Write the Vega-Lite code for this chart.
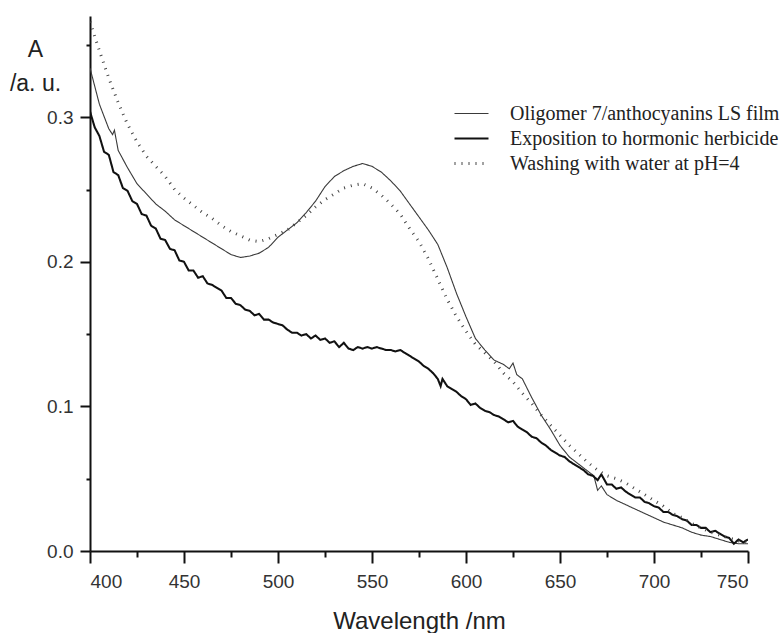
{
  "$schema": "https://vega.github.io/schema/vega-lite/v6.json",
  "width": 658,
  "height": 535,
  "autosize": "none",
  "padding": {"left": 90, "top": 16, "right": 33, "bottom": 82},
  "background": "white",
  "config": {
    "view": {"stroke": null},
    "axis": {"grid": false, "domainColor": "#111", "domainWidth": 2, "tickColor": "#111", "tickWidth": 2, "labelColor": "#333", "labelFont": "Liberation Sans", "labelFontSize": 19, "titleFont": "Liberation Sans", "titleColor": "#222", "titleFontWeight": "normal"}
  },
  "datasets": {
    "spectra": [
      {"s": "Oligomer 7/anthocyanins LS film", "wl": 400, "A": 0.334},
      {"s": "Oligomer 7/anthocyanins LS film", "wl": 405, "A": 0.309},
      {"s": "Oligomer 7/anthocyanins LS film", "wl": 410, "A": 0.292},
      {"s": "Oligomer 7/anthocyanins LS film", "wl": 412, "A": 0.288},
      {"s": "Oligomer 7/anthocyanins LS film", "wl": 413, "A": 0.291},
      {"s": "Oligomer 7/anthocyanins LS film", "wl": 415, "A": 0.277},
      {"s": "Oligomer 7/anthocyanins LS film", "wl": 420, "A": 0.265},
      {"s": "Oligomer 7/anthocyanins LS film", "wl": 425, "A": 0.254},
      {"s": "Oligomer 7/anthocyanins LS film", "wl": 430, "A": 0.247},
      {"s": "Oligomer 7/anthocyanins LS film", "wl": 435, "A": 0.240},
      {"s": "Oligomer 7/anthocyanins LS film", "wl": 440, "A": 0.235},
      {"s": "Oligomer 7/anthocyanins LS film", "wl": 445, "A": 0.229},
      {"s": "Oligomer 7/anthocyanins LS film", "wl": 450, "A": 0.225},
      {"s": "Oligomer 7/anthocyanins LS film", "wl": 455, "A": 0.221},
      {"s": "Oligomer 7/anthocyanins LS film", "wl": 460, "A": 0.217},
      {"s": "Oligomer 7/anthocyanins LS film", "wl": 465, "A": 0.213},
      {"s": "Oligomer 7/anthocyanins LS film", "wl": 470, "A": 0.209},
      {"s": "Oligomer 7/anthocyanins LS film", "wl": 475, "A": 0.205},
      {"s": "Oligomer 7/anthocyanins LS film", "wl": 480, "A": 0.203},
      {"s": "Oligomer 7/anthocyanins LS film", "wl": 485, "A": 0.204},
      {"s": "Oligomer 7/anthocyanins LS film", "wl": 490, "A": 0.206},
      {"s": "Oligomer 7/anthocyanins LS film", "wl": 495, "A": 0.210},
      {"s": "Oligomer 7/anthocyanins LS film", "wl": 500, "A": 0.217},
      {"s": "Oligomer 7/anthocyanins LS film", "wl": 505, "A": 0.222},
      {"s": "Oligomer 7/anthocyanins LS film", "wl": 510, "A": 0.227},
      {"s": "Oligomer 7/anthocyanins LS film", "wl": 515, "A": 0.234},
      {"s": "Oligomer 7/anthocyanins LS film", "wl": 520, "A": 0.242},
      {"s": "Oligomer 7/anthocyanins LS film", "wl": 525, "A": 0.252},
      {"s": "Oligomer 7/anthocyanins LS film", "wl": 530, "A": 0.259},
      {"s": "Oligomer 7/anthocyanins LS film", "wl": 535, "A": 0.263},
      {"s": "Oligomer 7/anthocyanins LS film", "wl": 540, "A": 0.266},
      {"s": "Oligomer 7/anthocyanins LS film", "wl": 545, "A": 0.268},
      {"s": "Oligomer 7/anthocyanins LS film", "wl": 550, "A": 0.266},
      {"s": "Oligomer 7/anthocyanins LS film", "wl": 555, "A": 0.262},
      {"s": "Oligomer 7/anthocyanins LS film", "wl": 560, "A": 0.256},
      {"s": "Oligomer 7/anthocyanins LS film", "wl": 565, "A": 0.249},
      {"s": "Oligomer 7/anthocyanins LS film", "wl": 570, "A": 0.240},
      {"s": "Oligomer 7/anthocyanins LS film", "wl": 575, "A": 0.231},
      {"s": "Oligomer 7/anthocyanins LS film", "wl": 580, "A": 0.222},
      {"s": "Oligomer 7/anthocyanins LS film", "wl": 585, "A": 0.212},
      {"s": "Oligomer 7/anthocyanins LS film", "wl": 590, "A": 0.196},
      {"s": "Oligomer 7/anthocyanins LS film", "wl": 595, "A": 0.178},
      {"s": "Oligomer 7/anthocyanins LS film", "wl": 600, "A": 0.162},
      {"s": "Oligomer 7/anthocyanins LS film", "wl": 605, "A": 0.147},
      {"s": "Oligomer 7/anthocyanins LS film", "wl": 610, "A": 0.139},
      {"s": "Oligomer 7/anthocyanins LS film", "wl": 615, "A": 0.132},
      {"s": "Oligomer 7/anthocyanins LS film", "wl": 620, "A": 0.129},
      {"s": "Oligomer 7/anthocyanins LS film", "wl": 623, "A": 0.126},
      {"s": "Oligomer 7/anthocyanins LS film", "wl": 625, "A": 0.130},
      {"s": "Oligomer 7/anthocyanins LS film", "wl": 627, "A": 0.122},
      {"s": "Oligomer 7/anthocyanins LS film", "wl": 630, "A": 0.119},
      {"s": "Oligomer 7/anthocyanins LS film", "wl": 635, "A": 0.106},
      {"s": "Oligomer 7/anthocyanins LS film", "wl": 640, "A": 0.094},
      {"s": "Oligomer 7/anthocyanins LS film", "wl": 645, "A": 0.084},
      {"s": "Oligomer 7/anthocyanins LS film", "wl": 650, "A": 0.073},
      {"s": "Oligomer 7/anthocyanins LS film", "wl": 655, "A": 0.065},
      {"s": "Oligomer 7/anthocyanins LS film", "wl": 660, "A": 0.060},
      {"s": "Oligomer 7/anthocyanins LS film", "wl": 665, "A": 0.055},
      {"s": "Oligomer 7/anthocyanins LS film", "wl": 668, "A": 0.052},
      {"s": "Oligomer 7/anthocyanins LS film", "wl": 670, "A": 0.042},
      {"s": "Oligomer 7/anthocyanins LS film", "wl": 672, "A": 0.045},
      {"s": "Oligomer 7/anthocyanins LS film", "wl": 675, "A": 0.039},
      {"s": "Oligomer 7/anthocyanins LS film", "wl": 680, "A": 0.035},
      {"s": "Oligomer 7/anthocyanins LS film", "wl": 685, "A": 0.032},
      {"s": "Oligomer 7/anthocyanins LS film", "wl": 690, "A": 0.029},
      {"s": "Oligomer 7/anthocyanins LS film", "wl": 695, "A": 0.026},
      {"s": "Oligomer 7/anthocyanins LS film", "wl": 700, "A": 0.023},
      {"s": "Oligomer 7/anthocyanins LS film", "wl": 705, "A": 0.020},
      {"s": "Oligomer 7/anthocyanins LS film", "wl": 710, "A": 0.018},
      {"s": "Oligomer 7/anthocyanins LS film", "wl": 715, "A": 0.016},
      {"s": "Oligomer 7/anthocyanins LS film", "wl": 720, "A": 0.013},
      {"s": "Oligomer 7/anthocyanins LS film", "wl": 725, "A": 0.011},
      {"s": "Oligomer 7/anthocyanins LS film", "wl": 730, "A": 0.010},
      {"s": "Oligomer 7/anthocyanins LS film", "wl": 735, "A": 0.008},
      {"s": "Oligomer 7/anthocyanins LS film", "wl": 740, "A": 0.006},
      {"s": "Oligomer 7/anthocyanins LS film", "wl": 745, "A": 0.005},
      {"s": "Oligomer 7/anthocyanins LS film", "wl": 750, "A": 0.005},

      {"s": "Exposition to hormonic herbicide", "wl": 400, "A": 0.304},
      {"s": "Exposition to hormonic herbicide", "wl": 402.5, "A": 0.293},
      {"s": "Exposition to hormonic herbicide", "wl": 405, "A": 0.287},
      {"s": "Exposition to hormonic herbicide", "wl": 407.5, "A": 0.276},
      {"s": "Exposition to hormonic herbicide", "wl": 410, "A": 0.274},
      {"s": "Exposition to hormonic herbicide", "wl": 412.5, "A": 0.262},
      {"s": "Exposition to hormonic herbicide", "wl": 415, "A": 0.260},
      {"s": "Exposition to hormonic herbicide", "wl": 417.5, "A": 0.251},
      {"s": "Exposition to hormonic herbicide", "wl": 420, "A": 0.249},
      {"s": "Exposition to hormonic herbicide", "wl": 422.5, "A": 0.242},
      {"s": "Exposition to hormonic herbicide", "wl": 425, "A": 0.240},
      {"s": "Exposition to hormonic herbicide", "wl": 427.5, "A": 0.233},
      {"s": "Exposition to hormonic herbicide", "wl": 430, "A": 0.232},
      {"s": "Exposition to hormonic herbicide", "wl": 432.5, "A": 0.225},
      {"s": "Exposition to hormonic herbicide", "wl": 435, "A": 0.223},
      {"s": "Exposition to hormonic herbicide", "wl": 437.5, "A": 0.216},
      {"s": "Exposition to hormonic herbicide", "wl": 440, "A": 0.215},
      {"s": "Exposition to hormonic herbicide", "wl": 442.5, "A": 0.209},
      {"s": "Exposition to hormonic herbicide", "wl": 445, "A": 0.208},
      {"s": "Exposition to hormonic herbicide", "wl": 447.5, "A": 0.201},
      {"s": "Exposition to hormonic herbicide", "wl": 450, "A": 0.200},
      {"s": "Exposition to hormonic herbicide", "wl": 452.5, "A": 0.194},
      {"s": "Exposition to hormonic herbicide", "wl": 455, "A": 0.194},
      {"s": "Exposition to hormonic herbicide", "wl": 457.5, "A": 0.189},
      {"s": "Exposition to hormonic herbicide", "wl": 460, "A": 0.190},
      {"s": "Exposition to hormonic herbicide", "wl": 462.5, "A": 0.185},
      {"s": "Exposition to hormonic herbicide", "wl": 465, "A": 0.184},
      {"s": "Exposition to hormonic herbicide", "wl": 467.5, "A": 0.182},
      {"s": "Exposition to hormonic herbicide", "wl": 470, "A": 0.180},
      {"s": "Exposition to hormonic herbicide", "wl": 472.5, "A": 0.175},
      {"s": "Exposition to hormonic herbicide", "wl": 475, "A": 0.175},
      {"s": "Exposition to hormonic herbicide", "wl": 477.5, "A": 0.171},
      {"s": "Exposition to hormonic herbicide", "wl": 480, "A": 0.170},
      {"s": "Exposition to hormonic herbicide", "wl": 482.5, "A": 0.167},
      {"s": "Exposition to hormonic herbicide", "wl": 485, "A": 0.166},
      {"s": "Exposition to hormonic herbicide", "wl": 487.5, "A": 0.163},
      {"s": "Exposition to hormonic herbicide", "wl": 490, "A": 0.164},
      {"s": "Exposition to hormonic herbicide", "wl": 492.5, "A": 0.160},
      {"s": "Exposition to hormonic herbicide", "wl": 495, "A": 0.160},
      {"s": "Exposition to hormonic herbicide", "wl": 497.5, "A": 0.158},
      {"s": "Exposition to hormonic herbicide", "wl": 500, "A": 0.157},
      {"s": "Exposition to hormonic herbicide", "wl": 502.5, "A": 0.156},
      {"s": "Exposition to hormonic herbicide", "wl": 505, "A": 0.153},
      {"s": "Exposition to hormonic herbicide", "wl": 507.5, "A": 0.151},
      {"s": "Exposition to hormonic herbicide", "wl": 510, "A": 0.151},
      {"s": "Exposition to hormonic herbicide", "wl": 512.5, "A": 0.149},
      {"s": "Exposition to hormonic herbicide", "wl": 515, "A": 0.150},
      {"s": "Exposition to hormonic herbicide", "wl": 517.5, "A": 0.147},
      {"s": "Exposition to hormonic herbicide", "wl": 520, "A": 0.149},
      {"s": "Exposition to hormonic herbicide", "wl": 522.5, "A": 0.146},
      {"s": "Exposition to hormonic herbicide", "wl": 525, "A": 0.147},
      {"s": "Exposition to hormonic herbicide", "wl": 527.5, "A": 0.144},
      {"s": "Exposition to hormonic herbicide", "wl": 530, "A": 0.145},
      {"s": "Exposition to hormonic herbicide", "wl": 532.5, "A": 0.141},
      {"s": "Exposition to hormonic herbicide", "wl": 535, "A": 0.144},
      {"s": "Exposition to hormonic herbicide", "wl": 537.5, "A": 0.140},
      {"s": "Exposition to hormonic herbicide", "wl": 540, "A": 0.139},
      {"s": "Exposition to hormonic herbicide", "wl": 542.5, "A": 0.141},
      {"s": "Exposition to hormonic herbicide", "wl": 545, "A": 0.140},
      {"s": "Exposition to hormonic herbicide", "wl": 547.5, "A": 0.141},
      {"s": "Exposition to hormonic herbicide", "wl": 550, "A": 0.140},
      {"s": "Exposition to hormonic herbicide", "wl": 552.5, "A": 0.141},
      {"s": "Exposition to hormonic herbicide", "wl": 555, "A": 0.140},
      {"s": "Exposition to hormonic herbicide", "wl": 557.5, "A": 0.139},
      {"s": "Exposition to hormonic herbicide", "wl": 560, "A": 0.139},
      {"s": "Exposition to hormonic herbicide", "wl": 562.5, "A": 0.138},
      {"s": "Exposition to hormonic herbicide", "wl": 565, "A": 0.139},
      {"s": "Exposition to hormonic herbicide", "wl": 567.5, "A": 0.137},
      {"s": "Exposition to hormonic herbicide", "wl": 570, "A": 0.135},
      {"s": "Exposition to hormonic herbicide", "wl": 572.5, "A": 0.133},
      {"s": "Exposition to hormonic herbicide", "wl": 575, "A": 0.131},
      {"s": "Exposition to hormonic herbicide", "wl": 577.5, "A": 0.128},
      {"s": "Exposition to hormonic herbicide", "wl": 580, "A": 0.126},
      {"s": "Exposition to hormonic herbicide", "wl": 582.5, "A": 0.123},
      {"s": "Exposition to hormonic herbicide", "wl": 585, "A": 0.119},
      {"s": "Exposition to hormonic herbicide", "wl": 586.5, "A": 0.114},
      {"s": "Exposition to hormonic herbicide", "wl": 587.5, "A": 0.119},
      {"s": "Exposition to hormonic herbicide", "wl": 590, "A": 0.114},
      {"s": "Exposition to hormonic herbicide", "wl": 592.5, "A": 0.112},
      {"s": "Exposition to hormonic herbicide", "wl": 595, "A": 0.110},
      {"s": "Exposition to hormonic herbicide", "wl": 597.5, "A": 0.107},
      {"s": "Exposition to hormonic herbicide", "wl": 600, "A": 0.105},
      {"s": "Exposition to hormonic herbicide", "wl": 602.5, "A": 0.101},
      {"s": "Exposition to hormonic herbicide", "wl": 605, "A": 0.102},
      {"s": "Exposition to hormonic herbicide", "wl": 607.5, "A": 0.099},
      {"s": "Exposition to hormonic herbicide", "wl": 610, "A": 0.097},
      {"s": "Exposition to hormonic herbicide", "wl": 612.5, "A": 0.096},
      {"s": "Exposition to hormonic herbicide", "wl": 615, "A": 0.094},
      {"s": "Exposition to hormonic herbicide", "wl": 617.5, "A": 0.093},
      {"s": "Exposition to hormonic herbicide", "wl": 620, "A": 0.091},
      {"s": "Exposition to hormonic herbicide", "wl": 622.5, "A": 0.089},
      {"s": "Exposition to hormonic herbicide", "wl": 625, "A": 0.090},
      {"s": "Exposition to hormonic herbicide", "wl": 627.5, "A": 0.086},
      {"s": "Exposition to hormonic herbicide", "wl": 630, "A": 0.084},
      {"s": "Exposition to hormonic herbicide", "wl": 632.5, "A": 0.082},
      {"s": "Exposition to hormonic herbicide", "wl": 635, "A": 0.079},
      {"s": "Exposition to hormonic herbicide", "wl": 637.5, "A": 0.078},
      {"s": "Exposition to hormonic herbicide", "wl": 640, "A": 0.075},
      {"s": "Exposition to hormonic herbicide", "wl": 642.5, "A": 0.073},
      {"s": "Exposition to hormonic herbicide", "wl": 645, "A": 0.070},
      {"s": "Exposition to hormonic herbicide", "wl": 647.5, "A": 0.068},
      {"s": "Exposition to hormonic herbicide", "wl": 650, "A": 0.066},
      {"s": "Exposition to hormonic herbicide", "wl": 652.5, "A": 0.065},
      {"s": "Exposition to hormonic herbicide", "wl": 655, "A": 0.062},
      {"s": "Exposition to hormonic herbicide", "wl": 657.5, "A": 0.060},
      {"s": "Exposition to hormonic herbicide", "wl": 660, "A": 0.058},
      {"s": "Exposition to hormonic herbicide", "wl": 662.5, "A": 0.056},
      {"s": "Exposition to hormonic herbicide", "wl": 665, "A": 0.053},
      {"s": "Exposition to hormonic herbicide", "wl": 667.5, "A": 0.052},
      {"s": "Exposition to hormonic herbicide", "wl": 670, "A": 0.049},
      {"s": "Exposition to hormonic herbicide", "wl": 672, "A": 0.053},
      {"s": "Exposition to hormonic herbicide", "wl": 675, "A": 0.046},
      {"s": "Exposition to hormonic herbicide", "wl": 677.5, "A": 0.046},
      {"s": "Exposition to hormonic herbicide", "wl": 680, "A": 0.043},
      {"s": "Exposition to hormonic herbicide", "wl": 682.5, "A": 0.044},
      {"s": "Exposition to hormonic herbicide", "wl": 685, "A": 0.041},
      {"s": "Exposition to hormonic herbicide", "wl": 687.5, "A": 0.039},
      {"s": "Exposition to hormonic herbicide", "wl": 690, "A": 0.037},
      {"s": "Exposition to hormonic herbicide", "wl": 692.5, "A": 0.037},
      {"s": "Exposition to hormonic herbicide", "wl": 695, "A": 0.034},
      {"s": "Exposition to hormonic herbicide", "wl": 697.5, "A": 0.033},
      {"s": "Exposition to hormonic herbicide", "wl": 700, "A": 0.031},
      {"s": "Exposition to hormonic herbicide", "wl": 702.5, "A": 0.030},
      {"s": "Exposition to hormonic herbicide", "wl": 705, "A": 0.027},
      {"s": "Exposition to hormonic herbicide", "wl": 707.5, "A": 0.027},
      {"s": "Exposition to hormonic herbicide", "wl": 710, "A": 0.025},
      {"s": "Exposition to hormonic herbicide", "wl": 712.5, "A": 0.024},
      {"s": "Exposition to hormonic herbicide", "wl": 715, "A": 0.022},
      {"s": "Exposition to hormonic herbicide", "wl": 717.5, "A": 0.021},
      {"s": "Exposition to hormonic herbicide", "wl": 720, "A": 0.018},
      {"s": "Exposition to hormonic herbicide", "wl": 722.5, "A": 0.018},
      {"s": "Exposition to hormonic herbicide", "wl": 725, "A": 0.016},
      {"s": "Exposition to hormonic herbicide", "wl": 727.5, "A": 0.016},
      {"s": "Exposition to hormonic herbicide", "wl": 730, "A": 0.013},
      {"s": "Exposition to hormonic herbicide", "wl": 732.5, "A": 0.014},
      {"s": "Exposition to hormonic herbicide", "wl": 735, "A": 0.012},
      {"s": "Exposition to hormonic herbicide", "wl": 737.5, "A": 0.010},
      {"s": "Exposition to hormonic herbicide", "wl": 740, "A": 0.009},
      {"s": "Exposition to hormonic herbicide", "wl": 742.5, "A": 0.005},
      {"s": "Exposition to hormonic herbicide", "wl": 745, "A": 0.008},
      {"s": "Exposition to hormonic herbicide", "wl": 747.5, "A": 0.006},
      {"s": "Exposition to hormonic herbicide", "wl": 750, "A": 0.008},

      {"s": "Washing with water at pH=4", "wl": 400, "A": 0.366},
      {"s": "Washing with water at pH=4", "wl": 405, "A": 0.346},
      {"s": "Washing with water at pH=4", "wl": 410, "A": 0.327},
      {"s": "Washing with water at pH=4", "wl": 415, "A": 0.310},
      {"s": "Washing with water at pH=4", "wl": 420, "A": 0.295},
      {"s": "Washing with water at pH=4", "wl": 425, "A": 0.283},
      {"s": "Washing with water at pH=4", "wl": 430, "A": 0.273},
      {"s": "Washing with water at pH=4", "wl": 435, "A": 0.266},
      {"s": "Washing with water at pH=4", "wl": 440, "A": 0.259},
      {"s": "Washing with water at pH=4", "wl": 445, "A": 0.250},
      {"s": "Washing with water at pH=4", "wl": 450, "A": 0.244},
      {"s": "Washing with water at pH=4", "wl": 455, "A": 0.239},
      {"s": "Washing with water at pH=4", "wl": 460, "A": 0.234},
      {"s": "Washing with water at pH=4", "wl": 465, "A": 0.230},
      {"s": "Washing with water at pH=4", "wl": 470, "A": 0.225},
      {"s": "Washing with water at pH=4", "wl": 475, "A": 0.221},
      {"s": "Washing with water at pH=4", "wl": 480, "A": 0.218},
      {"s": "Washing with water at pH=4", "wl": 485, "A": 0.215},
      {"s": "Washing with water at pH=4", "wl": 490, "A": 0.214},
      {"s": "Washing with water at pH=4", "wl": 495, "A": 0.216},
      {"s": "Washing with water at pH=4", "wl": 500, "A": 0.219},
      {"s": "Washing with water at pH=4", "wl": 505, "A": 0.222},
      {"s": "Washing with water at pH=4", "wl": 510, "A": 0.227},
      {"s": "Washing with water at pH=4", "wl": 515, "A": 0.232},
      {"s": "Washing with water at pH=4", "wl": 520, "A": 0.238},
      {"s": "Washing with water at pH=4", "wl": 525, "A": 0.243},
      {"s": "Washing with water at pH=4", "wl": 530, "A": 0.247},
      {"s": "Washing with water at pH=4", "wl": 535, "A": 0.251},
      {"s": "Washing with water at pH=4", "wl": 540, "A": 0.253},
      {"s": "Washing with water at pH=4", "wl": 545, "A": 0.254},
      {"s": "Washing with water at pH=4", "wl": 550, "A": 0.251},
      {"s": "Washing with water at pH=4", "wl": 555, "A": 0.246},
      {"s": "Washing with water at pH=4", "wl": 560, "A": 0.240},
      {"s": "Washing with water at pH=4", "wl": 565, "A": 0.233},
      {"s": "Washing with water at pH=4", "wl": 570, "A": 0.223},
      {"s": "Washing with water at pH=4", "wl": 575, "A": 0.214},
      {"s": "Washing with water at pH=4", "wl": 580, "A": 0.202},
      {"s": "Washing with water at pH=4", "wl": 585, "A": 0.188},
      {"s": "Washing with water at pH=4", "wl": 590, "A": 0.174},
      {"s": "Washing with water at pH=4", "wl": 595, "A": 0.162},
      {"s": "Washing with water at pH=4", "wl": 600, "A": 0.152},
      {"s": "Washing with water at pH=4", "wl": 605, "A": 0.143},
      {"s": "Washing with water at pH=4", "wl": 610, "A": 0.137},
      {"s": "Washing with water at pH=4", "wl": 615, "A": 0.131},
      {"s": "Washing with water at pH=4", "wl": 620, "A": 0.123},
      {"s": "Washing with water at pH=4", "wl": 625, "A": 0.117},
      {"s": "Washing with water at pH=4", "wl": 630, "A": 0.109},
      {"s": "Washing with water at pH=4", "wl": 635, "A": 0.102},
      {"s": "Washing with water at pH=4", "wl": 640, "A": 0.094},
      {"s": "Washing with water at pH=4", "wl": 645, "A": 0.087},
      {"s": "Washing with water at pH=4", "wl": 650, "A": 0.080},
      {"s": "Washing with water at pH=4", "wl": 655, "A": 0.073},
      {"s": "Washing with water at pH=4", "wl": 660, "A": 0.067},
      {"s": "Washing with water at pH=4", "wl": 665, "A": 0.061},
      {"s": "Washing with water at pH=4", "wl": 670, "A": 0.056},
      {"s": "Washing with water at pH=4", "wl": 675, "A": 0.052},
      {"s": "Washing with water at pH=4", "wl": 680, "A": 0.050},
      {"s": "Washing with water at pH=4", "wl": 685, "A": 0.047},
      {"s": "Washing with water at pH=4", "wl": 690, "A": 0.043},
      {"s": "Washing with water at pH=4", "wl": 695, "A": 0.039},
      {"s": "Washing with water at pH=4", "wl": 700, "A": 0.035},
      {"s": "Washing with water at pH=4", "wl": 705, "A": 0.031},
      {"s": "Washing with water at pH=4", "wl": 710, "A": 0.026},
      {"s": "Washing with water at pH=4", "wl": 715, "A": 0.023},
      {"s": "Washing with water at pH=4", "wl": 720, "A": 0.019},
      {"s": "Washing with water at pH=4", "wl": 725, "A": 0.016},
      {"s": "Washing with water at pH=4", "wl": 730, "A": 0.013},
      {"s": "Washing with water at pH=4", "wl": 735, "A": 0.011},
      {"s": "Washing with water at pH=4", "wl": 740, "A": 0.009},
      {"s": "Washing with water at pH=4", "wl": 745, "A": 0.007},
      {"s": "Washing with water at pH=4", "wl": 750, "A": 0.006}
    ]
  },
  "data": {"name": "spectra"},
  "layer": [
    {
      "mark": {"type": "line", "clip": true, "interpolate": "linear"},
      "encoding": {
        "x": {"field": "wl", "type": "quantitative", "scale": {"domain": [400, 750], "nice": false, "zero": false},
          "axis": {"values": [400, 450, 500, 550, 600, 650, 700, 750], "tickSize": 12, "labelPadding": 9, "title": "Wavelength /nm", "titleFontSize": 24, "titleBaseline": "alphabetic", "titleY": 77}},
        "y": {"field": "A", "type": "quantitative", "scale": {"domain": [0, 0.37], "nice": false},
          "axis": {"values": [0, 0.1, 0.2, 0.3], "format": ".1f", "tickSize": 10, "labelPadding": 7, "title": ["A", "/a. u."], "titleFontSize": 23, "titleAngle": 0, "titleAlign": "center", "titleBaseline": "alphabetic", "titleLineHeight": 34, "titleX": -55, "titleY": 40}},
        "color": {"field": "s", "type": "nominal", "sort": ["Oligomer 7/anthocyanins LS film", "Exposition to hormonic herbicide", "Washing with water at pH=4"],
          "scale": {"domain": ["Oligomer 7/anthocyanins LS film", "Exposition to hormonic herbicide", "Washing with water at pH=4"], "range": ["#3a3a3a", "#111111", "#444444"]},
          "legend": {"title": null, "orient": "none", "legendX": 363, "legendY": 85, "labelFont": "Liberation Serif", "labelFontSize": 20, "labelColor": "#222", "labelOffset": 20, "symbolType": "stroke", "symbolSize": 1156, "clipHeight": 25, "rowPadding": 0, "labelLimit": 400}},
        "strokeWidth": {"field": "s", "type": "nominal",
          "scale": {"domain": ["Oligomer 7/anthocyanins LS film", "Exposition to hormonic herbicide", "Washing with water at pH=4"], "range": [1.1, 3, 1]},
          "legend": {"title": null}},
        "strokeDash": {"field": "s", "type": "nominal",
          "scale": {"domain": ["Oligomer 7/anthocyanins LS film", "Exposition to hormonic herbicide", "Washing with water at pH=4"], "range": [[1, 0], [1, 0], [1, 6]]},
          "legend": {"title": null}}
      }
    },
    {
      "mark": {"type": "line", "opacity": 0},
      "encoding": {
        "x": {"field": "wl", "type": "quantitative", "scale": {"domain": [400, 750], "nice": false, "zero": false},
          "axis": {"orient": "bottom", "values": [425, 475, 525, 575, 625, 675, 725], "tickSize": 6, "labels": false, "domain": false, "title": null}},
        "y": {"field": "A", "type": "quantitative", "scale": {"domain": [0, 0.37], "nice": false},
          "axis": {"orient": "left", "values": [0.05, 0.15, 0.25, 0.35], "tickSize": 4, "labels": false, "domain": false, "title": null}}
      }
    }
  ],
  "resolve": {"scale": {"x": "independent", "y": "independent"}, "axis": {"x": "independent", "y": "independent"}}
}
